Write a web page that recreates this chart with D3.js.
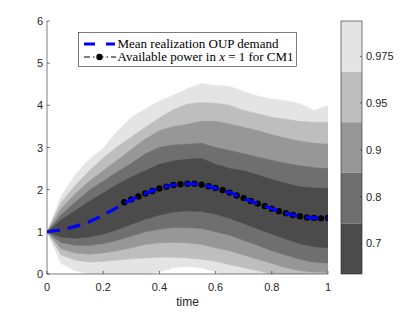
<!DOCTYPE html>
<html>
<head>
<meta charset="utf-8">
<script src="https://cdn.jsdelivr.net/npm/d3@7"></script>
<style>
  html, body { margin: 0; padding: 0; background: #fff; }
  svg { display: block; }
  .serif { font-family: "Liberation Serif", "DejaVu Serif", serif; }
  .sans { font-family: "Liberation Sans", Arial, sans-serif; }
</style>
</head>
<body>
<svg id="chart" width="415" height="312"></svg>
<script>
// ---------- data ----------
const times = [0,0.05,0.1,0.15,0.2,0.25,0.3,0.35,0.4,0.45,0.5,0.55,0.6,0.65,0.7,0.75,0.8,0.85,0.9,0.95,1];

const meanDemand = [1.00,1.05,1.13,1.24,1.40,1.58,1.76,1.91,2.03,2.11,2.14,2.12,2.03,1.93,1.79,1.67,1.55,1.44,1.37,1.33,1.32];

// quantile band boundaries (upper / lower) for each level
const upper975 = [1.0,1.85,2.35,2.72,2.98,3.38,3.72,3.92,4.10,4.24,4.40,4.52,4.47,4.45,4.33,4.22,4.15,4.11,4.04,3.88,4.00];
const lower975 = [1.0,0.25,0.08,0.0,-0.05,-0.05,-0.03,0.0,0.05,0.15,0.18,0.15,0.05,-0.05,-0.1,-0.2,-0.2,-0.2,-0.2,-0.2,-0.2];
const upper95  = [1.0,1.70,2.10,2.45,2.75,3.02,3.25,3.48,3.70,3.90,4.03,4.07,4.05,4.00,3.88,3.80,3.72,3.67,3.62,3.60,3.60];
const lower95  = [1.0,0.45,0.33,0.28,0.30,0.33,0.36,0.38,0.40,0.40,0.38,0.35,0.30,0.22,0.15,0.08,0.0,-0.1,-0.15,-0.2,-0.2];
const upper90  = [1.0,1.55,1.90,2.20,2.45,2.70,2.95,3.20,3.40,3.50,3.55,3.62,3.62,3.56,3.48,3.40,3.30,3.22,3.15,3.10,3.08];
const lower90  = [1.0,0.60,0.50,0.47,0.50,0.55,0.62,0.70,0.74,0.75,0.74,0.70,0.62,0.55,0.45,0.35,0.25,0.15,0.08,0.05,0.04];
const upper80  = [1.0,1.40,1.70,1.98,2.20,2.42,2.62,2.85,3.00,3.06,3.08,3.10,3.00,2.93,2.85,2.77,2.70,2.62,2.57,2.52,2.50];
const lower80  = [1.0,0.75,0.68,0.68,0.72,0.80,0.90,1.00,1.06,1.10,1.10,1.08,1.00,0.92,0.80,0.68,0.55,0.45,0.35,0.28,0.26];
const upper70  = [1.0,1.28,1.50,1.72,1.92,2.12,2.30,2.45,2.60,2.68,2.72,2.74,2.60,2.50,2.45,2.35,2.24,2.15,2.07,2.04,2.03];
const lower70  = [1.0,0.88,0.85,0.88,0.95,1.05,1.18,1.30,1.40,1.47,1.50,1.48,1.42,1.32,1.20,1.07,0.95,0.83,0.72,0.65,0.62];

const levelLabels = ["0.975","0.95","0.9","0.8","0.7"];
const levelColors = ["#e4e4e4","#bebebe","#979797","#6f6f6f","#4b4b4b"];
const bandUppers = [upper975, upper95, upper90, upper80, upper70];
const bandLowers = [lower975, lower95, lower90, lower80, lower70];

// available power in x = 1 for CM1
const powerTimes = [0.275,0.3,0.325,0.35,0.375,0.4,0.425,0.45,0.475,0.5,0.525,0.55,0.575,0.6,0.625,0.65,0.675,0.7,0.725,0.75,0.775,0.8,0.825,0.85,0.875,0.9,0.925,0.95,0.975,1.0];
const powerValues = [1.70,1.77,1.84,1.91,1.97,2.03,2.07,2.11,2.13,2.14,2.14,2.12,2.08,2.04,1.99,1.93,1.86,1.80,1.73,1.67,1.61,1.55,1.49,1.44,1.40,1.37,1.34,1.33,1.32,1.33];

const xTicks = [0,0.2,0.4,0.6,0.8,1];
const yTicks = [0,1,2,3,4,5,6];
// colorbar tick positions (in band units from bottom) and labels
const cbTickPos = [0.607,1.53,2.45,3.38,4.3];
const cbTickLabels = ["0.7","0.8","0.9","0.95","0.975"];

const legendLabels = ["Mean realization OUP demand", "Available power in ", "x", " = 1 for CM1"];

// ---------- layout ----------
const svg = d3.select("#chart");
const L = 47, R = 328, T = 21, B = 274;
const x = d3.scaleLinear().domain([0,1]).range([L,R]);
const y = d3.scaleLinear().domain([0,6]).range([B,T]);
const axisColor = "#262626";

svg.append("defs").append("clipPath").attr("id","clip")
  .append("rect").attr("x",L).attr("y",T).attr("width",R-L).attr("height",B-T);

const plot = svg.append("g").attr("clip-path","url(#clip)");

// bands
bandUppers.forEach((up, k) => {
  const lo = bandLowers[k];
  const area = d3.area()
    .x((d,i) => x(times[i]))
    .y0((d,i) => y(lo[i]))
    .y1((d,i) => y(up[i]))
    .curve(d3.curveLinear);
  plot.append("path")
    .datum(times)
    .attr("d", area)
    .attr("fill", levelColors[k])
    .attr("stroke", levelColors[k])
    .attr("stroke-width", 0.5);
});

// available power line (dash-dot) + markers
const powerLine = d3.line()
  .x((d,i) => x(powerTimes[i]))
  .y((d,i) => y(powerValues[i]));
plot.append("path").datum(powerTimes)
  .attr("d", powerLine)
  .attr("fill","none").attr("stroke","#555")
  .attr("stroke-width",1.5)
  .attr("stroke-dasharray","6,3,1.5,3");
plot.selectAll("circle.pw").data(powerTimes).enter().append("circle")
  .attr("class","pw")
  .attr("cx",(d) => x(d))
  .attr("cy",(d,i) => y(powerValues[i]))
  .attr("r",3.2).attr("fill","#000");

// mean line (blue dashed)
const meanLine = d3.line()
  .x((d,i) => x(times[i]))
  .y((d,i) => y(meanDemand[i]))
  .curve(d3.curveMonotoneX);
plot.append("path").datum(times)
  .attr("d", meanLine)
  .attr("fill","none").attr("stroke","#0000ff")
  .attr("stroke-width",3.2)
  .attr("stroke-dasharray","13,8");

// axes
const xAxis = svg.append("g");
xAxis.append("line").attr("x1",L).attr("x2",R).attr("y1",B).attr("y2",B)
  .attr("stroke",axisColor).attr("stroke-width",0.6);
xAxis.selectAll("line.t").data(xTicks).enter().append("line")
  .attr("x1",d=>x(d)).attr("x2",d=>x(d)).attr("y1",B).attr("y2",B-3)
  .attr("stroke",axisColor).attr("stroke-width",0.6);
xAxis.selectAll("text").data(xTicks).enter().append("text")
  .attr("class","sans")
  .attr("x",d=>x(d)).attr("y",B+17)
  .attr("text-anchor","middle")
  .attr("font-size",11).attr("fill",axisColor)
  .text(d=>d3.format("")(d));

const yAxis = svg.append("g");
yAxis.append("line").attr("x1",L).attr("x2",L).attr("y1",T).attr("y2",B)
  .attr("stroke",axisColor).attr("stroke-width",0.6);
yAxis.selectAll("line.t").data(yTicks).enter().append("line")
  .attr("x1",L).attr("x2",L+3).attr("y1",d=>y(d)).attr("y2",d=>y(d))
  .attr("stroke",axisColor).attr("stroke-width",0.6);
yAxis.selectAll("text").data(yTicks).enter().append("text")
  .attr("class","sans")
  .attr("x",L-4).attr("y",d=>y(d)+4)
  .attr("text-anchor","end")
  .attr("font-size",11).attr("fill",axisColor)
  .text(d=>d);

svg.append("text").attr("class","sans").attr("x",(L+R)/2).attr("y",306)
  .attr("text-anchor","middle")
  .attr("font-size",12).attr("fill",axisColor)
  .text("time");

// colorbar
const cbL = 341, cbW = 21;
const cb = d3.scaleLinear().domain([0,5]).range([B,T]);
const cbG = svg.append("g");
levelColors.slice().reverse().forEach((c,i) => {
  cbG.append("rect").attr("x",cbL).attr("width",cbW)
    .attr("y",cb(i+1)).attr("height",cb(i)-cb(i+1))
    .attr("fill",c);
});
cbG.append("rect").attr("x",cbL).attr("y",T).attr("width",cbW).attr("height",B-T)
  .attr("fill","none").attr("stroke",axisColor).attr("stroke-width",0.6);
cbG.selectAll("line.t").data(cbTickPos).enter().append("line")
  .attr("x1",cbL+cbW-2).attr("x2",cbL+cbW).attr("y1",d=>cb(d)).attr("y2",d=>cb(d))
  .attr("stroke",axisColor).attr("stroke-width",0.6);
cbG.selectAll("text").data(cbTickPos).enter().append("text")
  .attr("class","sans")
  .attr("x",cbL+cbW+4).attr("y",d=>cb(d)+4)
  .attr("font-size",11).attr("fill",axisColor)
  .text((d,i)=>cbTickLabels[i]);

// legend
const lg = svg.append("g");
lg.append("rect").attr("x",78.5).attr("y",32.5).attr("width",218).attr("height",34)
  .attr("fill","#fff").attr("stroke",axisColor).attr("stroke-width",0.6);
lg.append("line").attr("x1",84).attr("x2",115).attr("y1",44).attr("y2",44)
  .attr("stroke","#0000ff").attr("stroke-width",3.2).attr("stroke-dasharray","11,11");
lg.append("line").attr("x1",84).attr("x2",116).attr("y1",57).attr("y2",57)
  .attr("stroke","#555").attr("stroke-width",1.5).attr("stroke-dasharray","6,3,1.5,3");
lg.append("circle").attr("cx",99.5).attr("cy",57).attr("r",3.2).attr("fill","#000");
lg.append("text").attr("class","serif").attr("x",117.5).attr("y",48)
  .attr("font-size",12.5).attr("fill","#000")
  .attr("textLength",161).attr("lengthAdjust","spacingAndGlyphs")
  .text(legendLabels[0]);
const t2 = lg.append("text").attr("class","serif").attr("x",117.5).attr("y",61)
  .attr("font-size",12.5).attr("fill","#000")
  .attr("textLength",176).attr("lengthAdjust","spacingAndGlyphs");
t2.append("tspan").text(legendLabels[1]);
t2.append("tspan").attr("font-style","italic").text(legendLabels[2]);
t2.append("tspan").text(legendLabels[3]);
</script>
</body>
</html>
